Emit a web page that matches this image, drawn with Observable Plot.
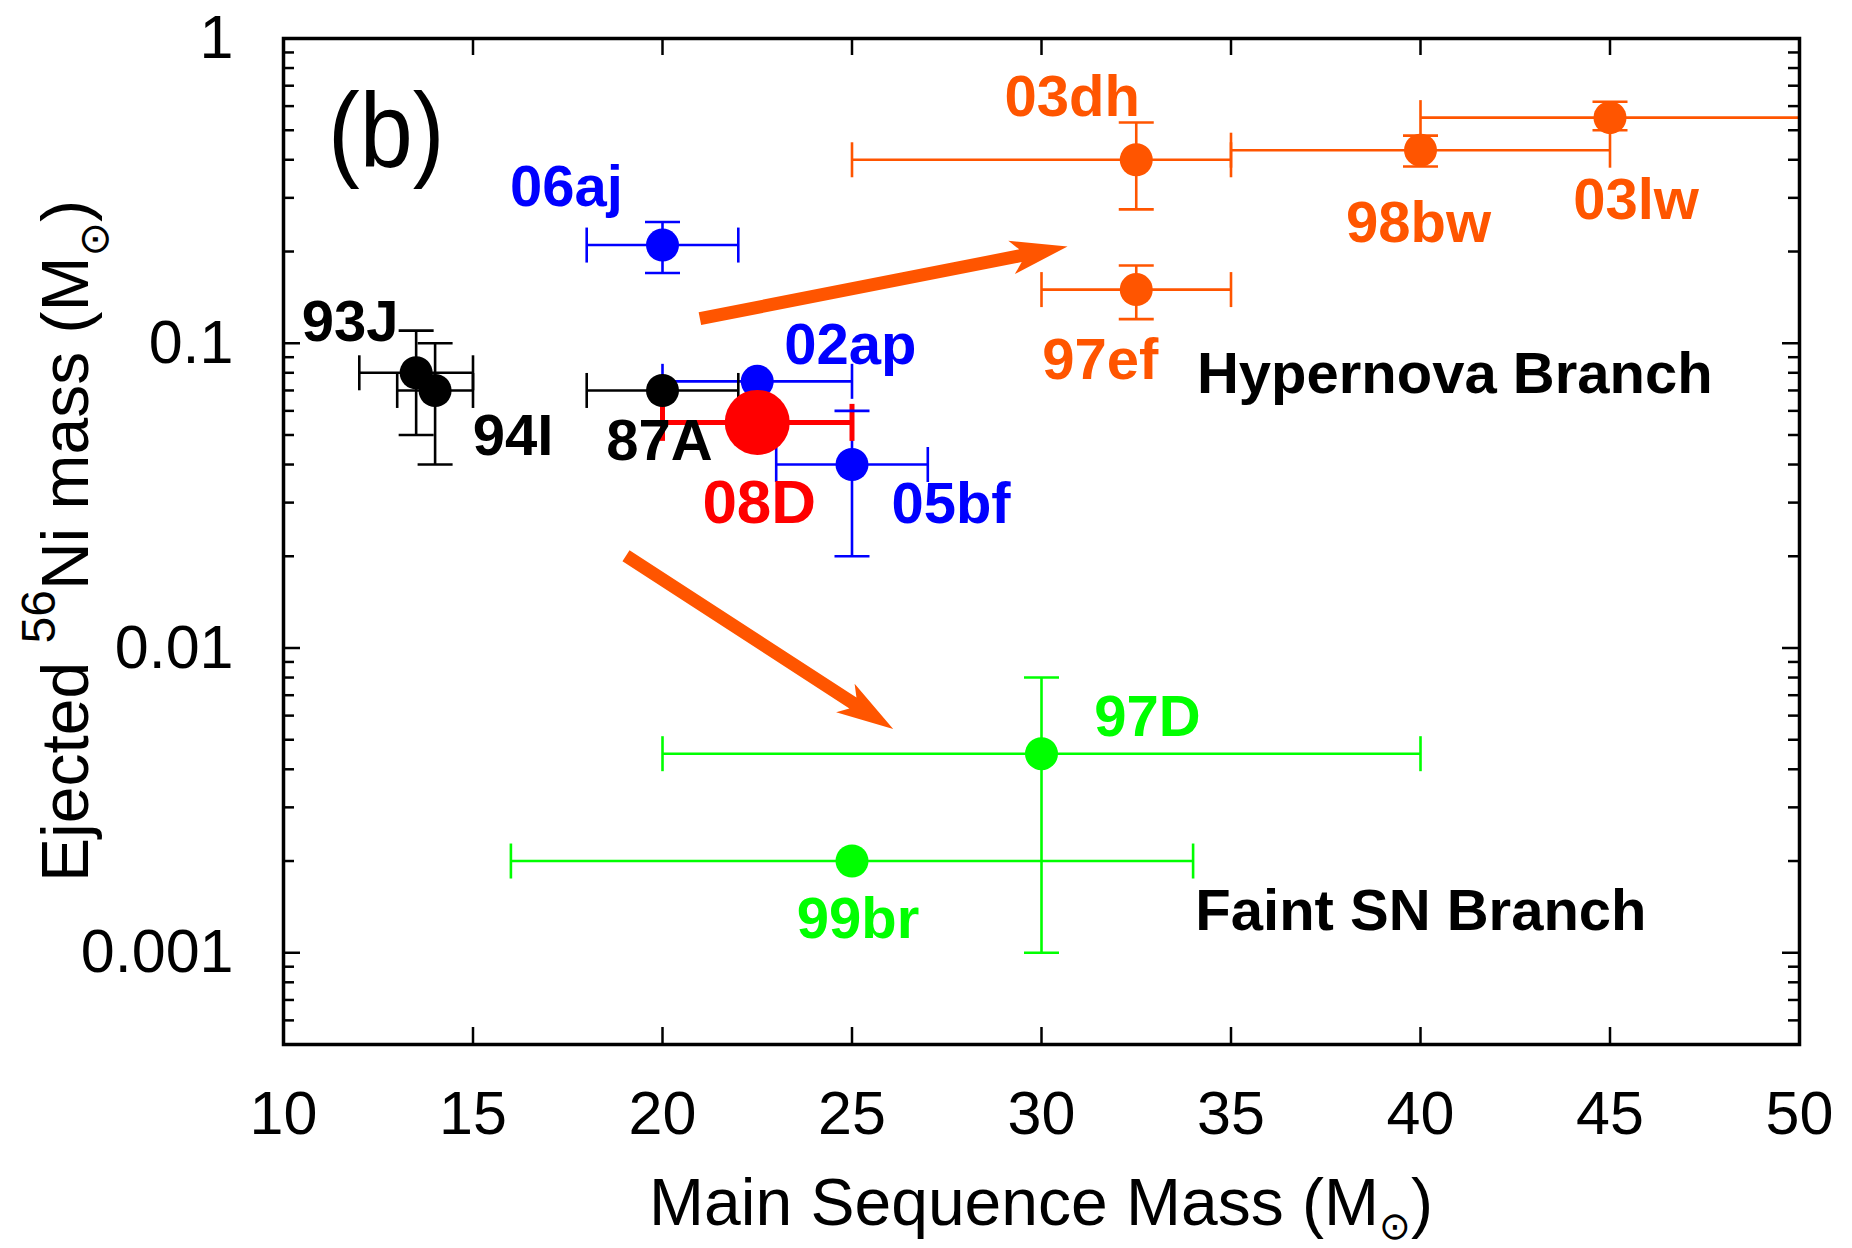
<!DOCTYPE html>
<html><head><meta charset="utf-8">
<script src="https://cdn.jsdelivr.net/npm/d3@7"></script>
<script src="https://cdn.jsdelivr.net/npm/@observablehq/plot@0.6"></script>
<style>body{margin:0;background:#fff} svg{display:block}</style>
</head><body><div id="chart"></div>
<script>
// ---------- data ----------
const names  = ["93J","94I","87A","06aj","02ap","05bf","08D","03dh","98bw","03lw","97ef","97D","99br"];
const groups = ["black","black","black","blue","blue","blue","red","orange","orange","orange","orange","green","green"];
const mass   = [13.5, 14, 20, 20, 22.5, 25, 22.5, 32.5, 40, 45, 32.5, 30, 25];
const ni     = [0.08, 0.07, 0.07, 0.21, 0.075, 0.04, 0.055, 0.40, 0.43, 0.55, 0.15, 0.0045, 0.002];
const massLo = [12, 13, 18, 18, 20, 23, 20, 25, 35, 40, 30, 20, 16];
const massHi = [15, 15, 22, 22, 25, 27, 25, 35, 45, 55, 35, 40, 34];
const niLo   = [0.05, 0.04, null, 0.17, null, 0.02, null, 0.275, 0.38, 0.50, 0.12, 0.001, null];
const niHi   = [0.11, 0.10, null, 0.25, null, 0.06, null, 0.53, 0.48, 0.62, 0.18, 0.008, null];

const arrowFromX = [21.0, 19.05];
const arrowFromY = [0.12, 0.0200];
const arrowToX   = [30.7, 26.1];
const arrowToY   = [0.207, 0.0054];

const branchText = ["Hypernova Branch", "Faint SN Branch"];
const branchX    = [34.1, 34.06];
const branchY    = [0.0686, 0.00119];

const xTickValues = [15, 20, 25, 30, 35, 40, 45];
const xLabelValues = [10, 15, 20, 25, 30, 35, 40, 45, 50];
const yMajorTicks = [0.1, 0.01, 0.001];
const yLabelValues = [1, 0.1, 0.01, 0.001];
const yLabelText = ["1", "0.1", "0.01", "0.001"];
const yMinorTicks = [0.0006,0.0007,0.0008,0.0009,
  0.002,0.003,0.004,0.005,0.006,0.007,0.008,0.009,
  0.02,0.03,0.04,0.05,0.06,0.07,0.08,0.09,
  0.2,0.3,0.4,0.5,0.6,0.7,0.8,0.9];

// ---------- styles ----------
const groupColor = {black:"#000000", blue:"#0000ff", red:"#ff0000", orange:"#ff5500", green:"#00ff00"};
const arrowColor = "#ff5500";
const labelOffsets = {
  "93J":[-66,-32], "94I":[78,65], "87A":[-3,70], "06aj":[-96,-39], "02ap":[93,-17],
  "05bf":[99,58], "08D":[2,101], "03dh":[-64,-44], "98bw":[-2,92], "03lw":[26,101],
  "97ef":[-36,89], "97D":[106,-18], "99br":[6,77]
};
const FONT = "'Liberation Sans', Arial, Helvetica, sans-serif";
const W = 1852, H = 1248, ML = 283, MR = 53, MT = 38, MB = 204;
const FW = W - ML - MR, FH = H - MT - MB;

const data = names.map((n, i) => ({
  name: n, group: groups[i], mass: mass[i], ni: ni[i],
  massLo: massLo[i], massHi: massHi[i], niLo: niLo[i], niHi: niHi[i],
  color: groupColor[groups[i]],
  r: n === "08D" ? 32.5 : 16.5,
  sw: n === "08D" ? 5 : 2.6,
  cap: n === "08D" ? 18.5 : 17.5
}));
const withY = data.filter(d => d.niLo != null);

const vbar = {draw(ctx, size){const r = Math.sqrt(size/Math.PI); ctx.moveTo(0,-r); ctx.lineTo(0,r);}};
const hbar = {draw(ctx, size){const r = Math.sqrt(size/Math.PI); ctx.moveTo(-r,0); ctx.lineTo(r,0);}};

function arrowsMark(index, scales) {
  const sx = scales.x, sy = scales.y;
  const g = d3.create("svg:g");
  for (let i = 0; i < arrowFromX.length; i++) {
    const x1 = sx(arrowFromX[i]), y1 = sy(arrowFromY[i]), x2 = sx(arrowToX[i]), y2 = sy(arrowToY[i]);
    const dx = x2 - x1, dy = y2 - y1, L = Math.hypot(dx, dy), ux = dx/L, uy = dy/L, nx = -uy, ny = ux;
    const sw = 6.5, hl = 57, hw = 17, notch = 9;
    const P = (a, b) => [x2 - ux*a + nx*b, y2 - uy*a + ny*b];
    const pts = [[x1 + nx*sw, y1 + ny*sw], P(hl - notch, sw), P(hl, hw), [x2, y2], P(hl, -hw), P(hl - notch, -sw), [x1 - nx*sw, y1 - ny*sw]];
    g.append("path").attr("d", "M" + pts.map(p => p.join(",")).join("L") + "Z").attr("fill", arrowColor);
  }
  return g.node();
}

const labelMarks = data.map(d => Plot.text([d], {
  x: "mass", y: "ni", text: "name",
  dx: labelOffsets[d.name][0], dy: labelOffsets[d.name][1],
  fill: d.color, fontSize: d.name === "08D" ? 62 : 58, fontWeight: "bold",
  textAnchor: "middle", lineAnchor: "bottom"
}));

const plot = Plot.plot({
  width: W, height: H,
  marginLeft: ML, marginRight: MR, marginTop: MT, marginBottom: MB,
  style: {fontFamily: FONT, background: "white", color: "black"},
  x: {domain: [10, 50], axis: null},
  y: {type: "log", domain: [0.0005, 1], axis: null},
  color: {type: "identity"},
  r: {type: "identity"},
  marks: [
    // ticks
    Plot.tickX(xTickValues, {x: d => d, insetTop: FH - 17, stroke: "black", strokeWidth: 2.5}),
    Plot.tickX(xTickValues, {x: d => d, insetBottom: FH - 17, stroke: "black", strokeWidth: 2.5}),
    Plot.tickY(yMajorTicks, {y: d => d, insetRight: FW - 17, stroke: "black", strokeWidth: 2.5}),
    Plot.tickY(yMajorTicks, {y: d => d, insetLeft: FW - 17, stroke: "black", strokeWidth: 2.5}),
    Plot.tickY(yMinorTicks, {y: d => d, insetRight: FW - 11, stroke: "black", strokeWidth: 2.5}),
    Plot.tickY(yMinorTicks, {y: d => d, insetLeft: FW - 11, stroke: "black", strokeWidth: 2.5}),
    // tick labels
    Plot.text(xLabelValues, {x: d => d, frameAnchor: "bottom", dy: 89, lineAnchor: "bottom", text: d => String(d), fontSize: 61, fill: "black"}),
    Plot.text(yLabelValues, {y: d => d, frameAnchor: "left", dx: -50, textAnchor: "end", lineAnchor: "middle", text: (d, i) => yLabelText[i], fontSize: 61, fill: "black"}),
    // error bars
    Plot.ruleY(data, {y: "ni", x1: "massLo", x2: "massHi", stroke: "color", strokeWidth: "sw", clip: true}),
    Plot.ruleX(withY, {x: "mass", y1: "niLo", y2: "niHi", stroke: "color", strokeWidth: "sw"}),
    Plot.dot(data, {x: "massLo", y: "ni", symbol: vbar, r: "cap", stroke: "color", strokeWidth: "sw", fill: "none", sort: null, clip: true}),
    Plot.dot(data, {x: "massHi", y: "ni", symbol: vbar, r: "cap", stroke: "color", strokeWidth: "sw", fill: "none", sort: null, clip: true}),
    Plot.dot(withY, {x: "mass", y: "niLo", symbol: hbar, r: "cap", stroke: "color", strokeWidth: "sw", fill: "none", sort: null}),
    Plot.dot(withY, {x: "mass", y: "niHi", symbol: hbar, r: "cap", stroke: "color", strokeWidth: "sw", fill: "none", sort: null}),
    // points
    Plot.dot(data, {x: "mass", y: "ni", r: "r", fill: "color", stroke: "none", sort: null}),
    // labels
    ...labelMarks,
    Plot.text(branchText, {x: (d, i) => branchX[i], y: (d, i) => branchY[i], text: d => d, textAnchor: "start", lineAnchor: "bottom", fontSize: 58, fontWeight: "bold", fill: "black"}),
    arrowsMark,
    Plot.frame({stroke: "black", strokeWidth: 3.5})
  ]
});

document.getElementById("chart").appendChild(plot);
const svg = d3.select(plot);

// panel label
const pb = svg.append("text").attr("transform", "translate(328,167) scale(0.9,1)")
  .attr("text-anchor", "start").attr("font-family", FONT).attr("font-size", 106).attr("fill", "black");
pb.text("(b)");

// x axis title
const xt = svg.append("text").attr("x", ML + FW/2).attr("y", 1225).attr("text-anchor", "middle")
  .attr("font-family", FONT).attr("font-size", 66).attr("fill", "black");
xt.append("tspan").text("Main Sequence Mass (M");
xt.append("tspan").attr("dy", 14).attr("font-size", 38).attr("font-family", "'DejaVu Sans', sans-serif").text("\u2299");
xt.append("tspan").attr("dy", -14).text(")");

// y axis title
const yt = svg.append("text").attr("transform", `translate(88,${MT + FH/2}) rotate(-90)`).attr("text-anchor", "middle")
  .attr("font-family", FONT).attr("font-size", 66).attr("fill", "black");
yt.append("tspan").text("Ejected ");
yt.append("tspan").attr("dy", -33).attr("font-size", 48).text("56");
yt.append("tspan").attr("dy", 33).text("Ni mass (M");
yt.append("tspan").attr("dy", 20).attr("font-size", 41).attr("font-family", "'DejaVu Sans', sans-serif").text("\u2299");
yt.append("tspan").attr("dy", -20).text(")");
</script>
</body></html>
